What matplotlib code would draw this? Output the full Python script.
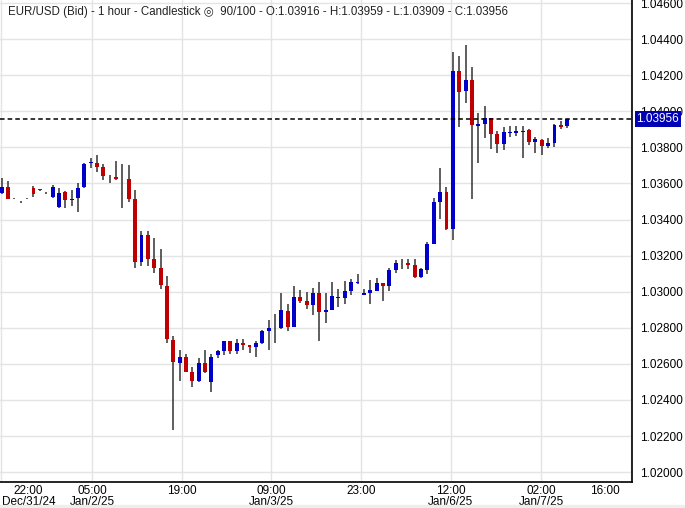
import matplotlib
matplotlib.use("Agg")
import matplotlib.pyplot as plt
from matplotlib.patches import Rectangle

opens = [1.03548,1.03582,1.03519,1.03497,1.03519,1.03574,1.03569,1.03547,1.03523,1.03467,
         1.03554,1.03506,1.03517,1.03578,1.03717,1.03714,1.03692,1.03636,1.03637,1.03624,
         1.03626,1.03515,1.03165,1.03317,1.03179,1.03130,1.03031,1.02733,1.02603,1.02640,
         1.02557,1.02503,1.02606,1.02498,1.02647,1.02669,1.02724,1.02669,1.02713,1.02702,
         1.02691,1.02713,1.02784,1.02799,1.02796,1.02895,1.02806,1.02972,1.02950,1.02927,
         1.02994,1.02888,1.02901,1.02969,1.02966,1.03004,1.03052,1.02981,1.02994,1.03004,
         1.03047,1.03029,1.03123,1.03159,1.03161,1.03150,1.03083,1.03123,1.03265,1.03499,
         1.03554,1.03345,1.04221,1.04110,1.04171,1.03918,1.03929,1.03962,1.03874,1.03819,
         1.03883,1.03879,1.03884,1.03895,1.03830,1.03840,1.03807,1.03824,1.03926,1.03916]
highs = [1.03631,1.03611,1.03522,1.03500,1.03522,1.03587,1.03571,1.03552,1.03593,1.03574,
         1.03556,1.03565,1.03604,1.03715,1.03743,1.03758,1.03709,1.03648,1.03725,1.03709,
         1.03703,1.03565,1.03339,1.03339,1.03295,1.03235,1.03086,1.02755,1.02675,1.02656,
         1.02585,1.02634,1.02679,1.02656,1.02679,1.02729,1.02726,1.02740,1.02740,1.02704,
         1.02729,1.02787,1.02845,1.02876,1.02994,1.02933,1.03029,1.03011,1.02998,1.03020,
         1.03054,1.02994,1.03054,1.03014,1.03059,1.03070,1.03097,1.03014,1.03064,1.03075,
         1.03049,1.03130,1.03176,1.03179,1.03179,1.03179,1.03130,1.03276,1.03521,1.03686,
         1.03582,1.04331,1.04309,1.04369,1.04243,1.03989,1.04028,1.03964,1.03890,1.03915,
         1.03918,1.03918,1.03918,1.03901,1.03857,1.03846,1.03851,1.03928,1.03945,1.03959]
lows = [1.03543,1.03513,1.03515,1.03494,1.03516,1.03523,1.03559,1.03539,1.03517,1.03466,
        1.03462,1.03473,1.03440,1.03577,1.03683,1.03666,1.03617,1.03600,1.03620,1.03462,
        1.03495,1.03132,1.03143,1.03143,1.03104,1.03016,1.02718,1.02234,1.02503,1.02553,
        1.02470,1.02498,1.02551,1.02443,1.02630,1.02651,1.02656,1.02656,1.02679,1.02662,
        1.02640,1.02711,1.02679,1.02714,1.02794,1.02784,1.02804,1.02939,1.02904,1.02871,
        1.02724,1.02827,1.02899,1.02915,1.02933,1.02981,1.03042,1.02979,1.02933,1.03002,
        1.02950,1.03004,1.03103,1.03125,1.03125,1.03075,1.03075,1.03097,1.03262,1.03405,
        1.03343,1.03284,1.03915,1.04045,1.03515,1.03715,1.03853,1.03791,1.03769,1.03786,
        1.03857,1.03862,1.03741,1.03813,1.03769,1.03758,1.03796,1.03802,1.03904,1.03909]
closes = [1.03583,1.03515,1.03519,1.03497,1.03519,1.03539,1.03561,1.03547,1.03582,1.03548,
          1.03506,1.03515,1.03576,1.03709,1.03717,1.03692,1.03639,1.03636,1.03626,1.03624,
          1.03515,1.03165,1.03317,1.03181,1.03132,1.03038,1.02735,1.02609,1.02640,1.02557,
          1.02503,1.02606,1.02553,1.02640,1.02669,1.02724,1.02669,1.02713,1.02702,1.02691,
          1.02713,1.02784,1.02801,1.02799,1.02901,1.02806,1.02972,1.02950,1.02927,1.02994,
          1.02888,1.02901,1.02976,1.02969,1.03004,1.03054,1.03052,1.02994,1.03011,1.03047,
          1.03029,1.03123,1.03161,1.03159,1.03150,1.03083,1.03125,1.03265,1.03499,1.03554,
          1.03345,1.04221,1.04105,1.04171,1.03926,1.03929,1.03962,1.03874,1.03819,1.03884,
          1.03883,1.03890,1.03890,1.03830,1.03846,1.03807,1.03824,1.03926,1.03915,1.03956]
doji_black = [3, 4, 7]

tick_pos = [4.2, 14.2, 28.3, 42.4, 56.5, 70.7, 84.9, 95.0]
tick_labels = ["22:00\nDec/31/24", "05:00\nJan/2/25", "19:00", "09:00\nJan/3/25",
               "23:00", "12:00\nJan/6/25", "02:00\nJan/7/25", "16:00"]
grid_x = [14.2, 28.3, 42.4, 56.5, 70.7, 84.9, 99.0]
y_ticks = [1.020 + 0.002 * k for k in range(14)]
last_price = 1.03956

plt.rcParams['font.family'] = ['Liberation Sans', 'DejaVu Sans']
fig = plt.figure(figsize=(6.85, 5.08), dpi=100)
ax = fig.add_axes([0, 1 - 482 / 508, 632 / 685, 482 / 508])
ax.set_xlim(-0.27, 99.2)
ax.set_ylim(1.01945, 1.04617)

BLUE, RED, WICK = "#0000c8", "#c00000", "#333333"
w = 0.62
for i, (o, h, l, c) in enumerate(zip(opens, highs, lows, closes)):
    ax.vlines(i, l, h, color=WICK, lw=1.1, zorder=2)
    col = BLUE if c >= o else RED
    if i in doji_black:
        col = "black"
    if abs(c - o) < 0.00006:
        mid = (o + c) / 2
        ax.add_patch(Rectangle((i - w / 2, mid - 0.00002), w, 0.00004, color=col, zorder=3, lw=0))
    else:
        ax.add_patch(Rectangle((i - w / 2, min(o, c)), w, abs(c - o), color=col, zorder=3, lw=0))

ax.axhline(last_price, color="black", ls=(0, (3, 2)), lw=1.1, zorder=4)

for y in y_ticks:
    ax.axhline(y, color="#e4e4e4", lw=1, zorder=0)
for x in grid_x:
    ax.axvline(x, color="#e4e4e4", lw=1, zorder=0)
ax.axvline(-0.1, color="#e4e4e4", lw=1, zorder=0)

ax.yaxis.tick_right()
ax.set_yticks(y_ticks)
ax.set_yticklabels([f"{v:.5f}" for v in y_ticks], fontsize=8.5)
ax.set_xticks(tick_pos)
ax.set_xticklabels(tick_labels, fontsize=8.5, linespacing=0.95)
ax.tick_params(length=0, pad=6)
ax.tick_params(axis="x", pad=2)
for s in ["left", "top"]:
    ax.spines[s].set_visible(False)
for s in ["right", "bottom"]:
    ax.spines[s].set_linewidth(1.2)

ax.text(1.007, last_price, f"{last_price:.5f}", transform=ax.get_yaxis_transform(),
        fontsize=8.5, color="white", va="center", ha="left", zorder=6,
        bbox=dict(boxstyle="square,pad=0.15", fc="#0000b4", ec="none"), clip_on=False)

ax.text(0.012, 0.988, "EUR/USD (Bid) - 1 hour - Candlestick \u25CE  90/100 - O:1.03916 - H:1.03959 - L:1.03909 - C:1.03956",
        transform=ax.transAxes, fontsize=8.3, va="top", ha="left", color="#222222",
        family=["Liberation Sans", "DejaVu Sans"])

fig.patches.append(Rectangle((0, 0), 1, 3 / 508, transform=fig.transFigure, color="#eeeeee"))
fig.savefig("out.png", dpi=100)
